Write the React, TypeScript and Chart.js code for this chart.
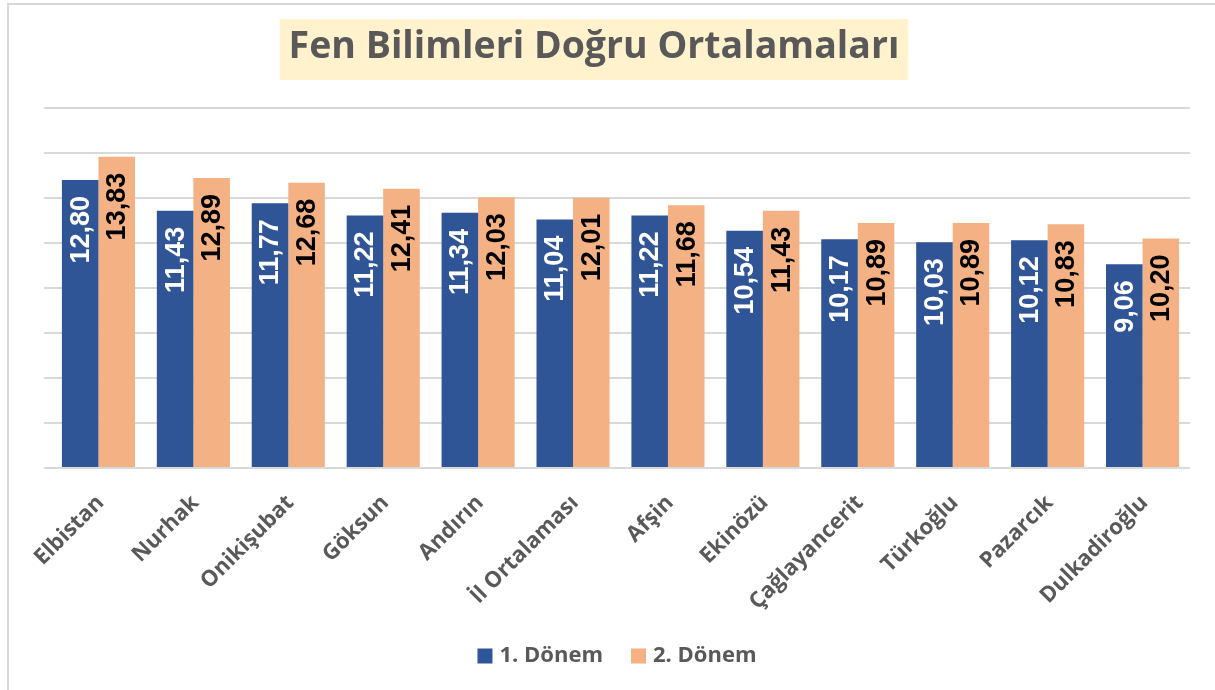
import React, { useEffect, useRef } from "react";
import { Chart, registerables } from "chart.js";

Chart.register(...registerables);

const chartTitle = "Fen Bilimleri Doğru Ortalamaları";
const categories = [
  "Elbistan",
  "Nurhak",
  "Onikişubat",
  "Göksun",
  "Andırın",
  "İl Ortalaması",
  "Afşin",
  "Ekinözü",
  "Çağlayancerit",
  "Türkoğlu",
  "Pazarcık",
  "Dulkadiroğlu",
];
const donem1 = [12.8, 11.43, 11.77, 11.22, 11.34, 11.04, 11.22, 10.54, 10.17, 10.03, 10.12, 9.06];
const donem2 = [13.83, 12.89, 12.68, 12.41, 12.03, 12.01, 11.68, 11.43, 10.89, 10.89, 10.83, 10.2];
const seriesNames = ["1. Dönem", "2. Dönem"];
const seriesColors = ["#2F5597", "#F4B183"];
const labelColors = ["#FFFFFF", "#000000"];
const yMax = 16;
const yStep = 2;

const GRAY = "#595959";
const GRID = "#D9D9D9";

const titlePlugin = {
  id: "boxTitle",
  afterDraw(chart: any) {
    const ctx = chart.ctx;
    ctx.save();
    ctx.font = "bold 37.5px 'Open Sans'";
    const w = ctx.measureText(chartTitle).width;
    const cx = 594;
    const padX = 9;
    const top = 19;
    const h = 61;
    ctx.fillStyle = "#FFF2CC";
    ctx.fillRect(cx - w / 2 - padX, top, w + padX * 2, h);
    ctx.fillStyle = GRAY;
    ctx.textAlign = "center";
    ctx.textBaseline = "middle";
    ctx.fillText(chartTitle, cx, top + h / 2 - 2);
    ctx.restore();
  },
};

// extends horizontal gridlines a little to the left of the plot area (as in the reference)
const gridExtendPlugin = {
  id: "gridExtend",
  beforeDatasetsDraw(chart: any) {
    const ctx = chart.ctx;
    const y = chart.scales.y;
    ctx.save();
    ctx.strokeStyle = GRID;
    ctx.lineWidth = 2;
    y.ticks.forEach((t: any) => {
      const py = Math.round(y.getPixelForValue(t.value));
      ctx.beginPath();
      ctx.moveTo(44, py);
      ctx.lineTo(chart.chartArea.left, py);
      ctx.stroke();
    });
    ctx.restore();
  },
};

const valueLabelPlugin = {
  id: "valueLabels",
  afterDatasetsDraw(chart: any) {
    const ctx = chart.ctx;
    ctx.save();
    ctx.font = "bold 27px 'Liberation Sans'";
    chart.data.datasets.forEach((ds: any, di: number) => {
      const meta = chart.getDatasetMeta(di);
      meta.data.forEach((bar: any, i: number) => {
        const v = ds.data[i] as number;
        const txt = v.toFixed(2).replace(".", ",");
        ctx.save();
        ctx.translate(bar.x, bar.y + 16);
        ctx.rotate(-Math.PI / 2);
        ctx.fillStyle = labelColors[di];
        ctx.textAlign = "right";
        ctx.textBaseline = "middle";
        ctx.fillText(txt, 0, 1);
        ctx.restore();
      });
    });
    ctx.restore();
  },
};

const legendPlugin = {
  id: "customLegend",
  afterDraw(chart: any) {
    const ctx = chart.ctx;
    ctx.save();
    ctx.font = "bold 22px 'Open Sans'";
    const box = 15;
    const gapBoxText = 7;
    const gapItems = 28;
    const widths = seriesNames.map((n) => ctx.measureText(n).width);
    const total =
      widths.reduce((a, b) => a + b, 0) + seriesNames.length * (box + gapBoxText) + gapItems * (seriesNames.length - 1);
    let x = 617 - total / 2;
    const cy = 656;
    seriesNames.forEach((n, i) => {
      ctx.fillStyle = seriesColors[i];
      ctx.fillRect(x, cy - box / 2, box, box);
      x += box + gapBoxText;
      ctx.fillStyle = GRAY;
      ctx.textAlign = "left";
      ctx.textBaseline = "middle";
      ctx.fillText(n, x, cy);
      x += widths[i] + gapItems;
    });
    ctx.restore();
  },
};

export default function App() {
  const ref = useRef<HTMLCanvasElement | null>(null);

  useEffect(() => {
    if (!ref.current) return;
    const chart = new Chart(ref.current, {
      type: "bar",
      data: {
        labels: categories,
        datasets: [
          {
            label: seriesNames[0],
            data: donem1,
            backgroundColor: seriesColors[0],
            categoryPercentage: 0.77,
            barPercentage: 1.0,
          },
          {
            label: seriesNames[1],
            data: donem2,
            backgroundColor: seriesColors[1],
            categoryPercentage: 0.77,
            barPercentage: 1.0,
          },
        ],
      },
      options: {
        animation: false,
        responsive: false,
        maintainAspectRatio: false,
        layout: { padding: { left: 51, right: 25, top: 108, bottom: 0 } },
        plugins: {
          legend: { display: false },
          title: { display: false },
          tooltip: { enabled: false },
        },
        scales: {
          x: {
            grid: { display: false },
            border: { display: false },
            ticks: {
              minRotation: 45,
              maxRotation: 45,
              padding: 14,
              labelOffset: 2,
              color: GRAY,
              font: { family: "'Open Sans'", size: 22, weight: "bold" },
            },
            afterFit: (scale: any) => {
              scale.height = 222;
            },
          },
          y: {
            min: 0,
            max: yMax,
            ticks: { display: false, stepSize: yStep },
            grid: { color: GRID, lineWidth: 2, drawTicks: false },
            border: { display: false },
            afterFit: (scale: any) => {
              scale.width = 0;
            },
          },
        },
      },
      plugins: [gridExtendPlugin, titlePlugin, valueLabelPlugin, legendPlugin],
    });
    return () => chart.destroy();
  }, []);

  return (
    <div style={{ position: "fixed", left: 0, top: 0, width: 1215, height: 690, background: "#fff" }}>
      <div
        style={{
          position: "absolute",
          left: 7,
          top: 3,
          right: 0,
          bottom: 0,
          borderLeft: "2px solid #D9D9D9",
          borderTop: "2px solid #D9D9D9",
        }}
      />
      <canvas ref={ref} width={1215} height={690} style={{ position: "absolute", left: 0, top: 0 }} />
    </div>
  );
}
